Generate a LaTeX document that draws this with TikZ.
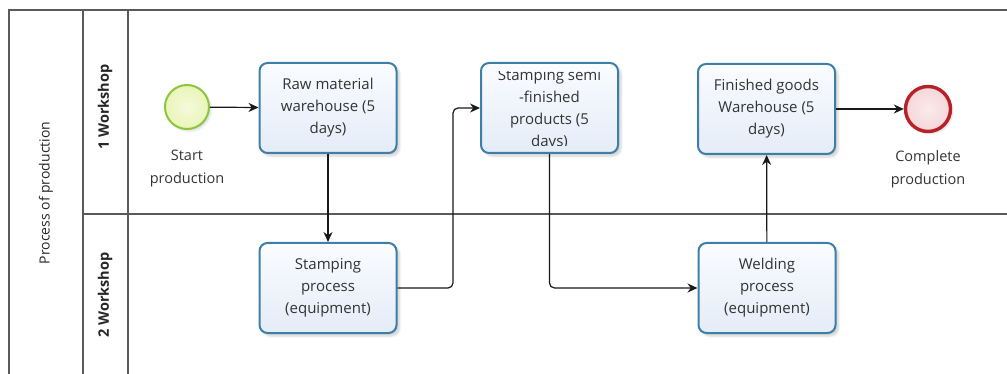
\documentclass[tikz,border=0pt]{standalone}
\usepackage{fontspec}
\setmainfont{Open Sans}
\usetikzlibrary{arrows.meta,shadows.blur}
\definecolor{taskline}{HTML}{3D7FA6}
\definecolor{tasktop}{HTML}{FAFCFF}
\definecolor{taskbot}{HTML}{E4ECF8}
\definecolor{startline}{HTML}{8CC63E}
\definecolor{startfill}{HTML}{EAF5B8}
\definecolor{endline}{HTML}{B8202A}
\definecolor{endfill}{HTML}{F6D6D8}
\definecolor{poolline}{HTML}{5A5A5A}
\definecolor{txt}{HTML}{333333}
\tikzset{
  task/.style={draw=taskline, line width=2pt, rounded corners=8pt,
    top color=tasktop, bottom color=taskbot,
    minimum width=137pt, minimum height=90pt, inner sep=0pt,
    blur shadow={shadow xshift=3pt, shadow yshift=-3pt, shadow opacity=18, shadow blur steps=6},
    font=\fontsize{15}{22}\selectfont, text=txt, align=center},
  startev/.style={circle, draw=startline, line width=2pt, inner color=white!50!startfill,
    outer color=startfill, minimum size=44pt, inner sep=0pt,
    blur shadow={shadow xshift=2pt, shadow yshift=-2pt, shadow opacity=15, shadow blur steps=5}},
  endev/.style={circle, draw=endline, line width=3.4pt, inner color=endfill!50,
    outer color=endfill, minimum size=45pt, inner sep=0pt,
    blur shadow={shadow xshift=2pt, shadow yshift=-2pt, shadow opacity=15, shadow blur steps=5}},
  evlabel/.style={font=\fontsize{14.5}{23}\selectfont, text=txt, align=center},
  lanehead/.style={rotate=90, font=\fontsize{14.5}{17}\selectfont\bfseries, text=black!85},
  poolhead/.style={rotate=90, font=\fontsize{14}{17}\selectfont, text=black!85},
  pool/.style={draw=poolline, line width=1.4pt},
  flow/.style={draw=black!90, line width=1.2pt, rounded corners=5pt,
    -{Stealth[length=10pt,width=9pt]}},
}
\begin{document}
\begin{tikzpicture}[x=1pt,y=-1pt]
\useasboundingbox (0,0) rectangle (1007,374);

% pool and lanes
\draw[pool] (1007,10) -- (9,10) -- (9,374);
\draw[pool] (83,10) -- (83,374);
\draw[pool] (128,10) -- (128,374);
\draw[pool] (83,214) -- (1007,214);
\node[poolhead] (ph) at (46,193) {Process of production};
\node[lanehead] (l1) at (105,107) {1 Workshop};
\node[lanehead] (l2) at (105,295) {2 Workshop};

% events
\node[startev] (start) at (187,107) {};
\node[evlabel, anchor=north] (startlbl) at (187,146) {Start\\production};
\node[endev] (end) at (928,109) {};
\node[evlabel, anchor=north] (endlbl) at (928,147) {Complete\\production};

% tasks
\node[task] (raw) at (328,108) {Raw material\\warehouse (5\\days)};
\node[task] (semi) at (549.5,108) {};
\begin{scope}
  \clip (489.5,72) rectangle (609.5,146);
  \node[font=\fontsize{15}{22}\selectfont, text=txt, align=center] (semitext) at (549.5,110)
    {Stamping semi\\-finished\\products (5\\days)};
\end{scope}
\node[task] (fg) at (766.5,109) {Finished goods\\Warehouse (5\\days)};
\node[task] (sp) at (328,288) {\raisebox{-2pt}{\parbox{130pt}{\centering Stamping\\process\\(equipment)}}};
\node[task] (wp) at (767,288) {\raisebox{-2pt}{\parbox{130pt}{\centering Welding\\process\\(equipment)}}};

% sequence flows
\coordinate (bend1) at (453,200);
\draw[flow] (start) -- (raw);
\draw[flow] (raw) -- (sp);
\draw[flow] (sp.east) -| (bend1) |- (semi.west);
\draw[flow] (semi.south) |- (wp.west);
\draw[flow] (wp) -- (fg);
\draw[flow] (fg.east) -- (end);
\end{tikzpicture}
\end{document}
